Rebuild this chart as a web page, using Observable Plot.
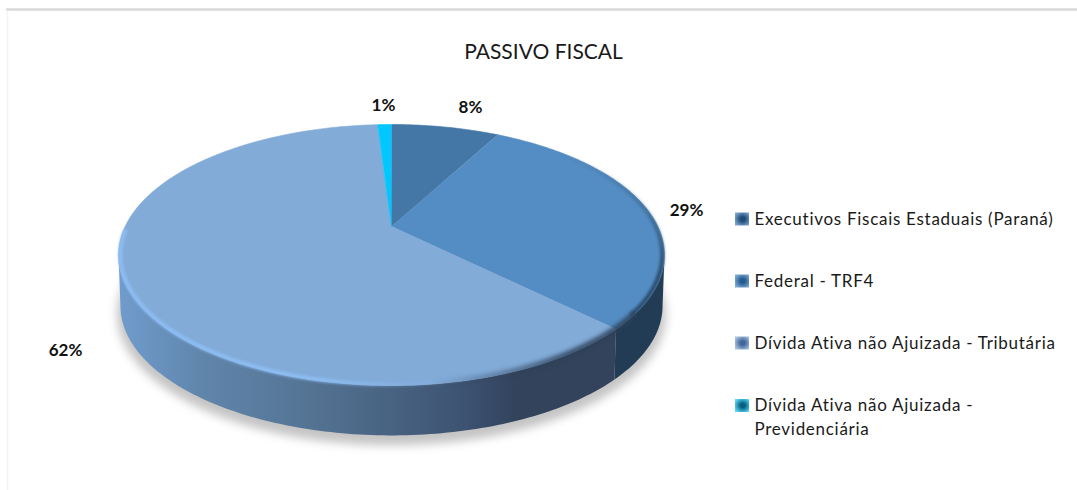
<!DOCTYPE html>
<html lang="pt">
<head>
<meta charset="utf-8">
<script src="https://cdn.jsdelivr.net/npm/d3@7"></script>
<script src="https://cdn.jsdelivr.net/npm/@observablehq/plot@0.6"></script>
<style>html,body{margin:0;padding:0;background:#fff}svg{display:block}</style>
</head>
<body>
<div id="chart"></div>
<script>
const chartTitle = "PASSIVO FISCAL";
const categories = ["Executivos Fiscais Estaduais (Paraná)", "Federal - TRF4", "Dívida Ativa não Ajuizada - Tributária", "Dívida Ativa não Ajuizada -\nPrevidenciária"];
const shares = [7.9, 29.45, 61.65, 1.0];
const faceColors = ["#4577a6", "#548dc4", "#82abd8", "#00c8ff"];
const labelX = [470, 686, 65, 383];
const labelY = [107, 210, 350, 105];
const legendY = [219, 281, 343, 405.5];
const swatchColors = [["#7ba6cf", "#1d4b78"], ["#7dabd8", "#255a8c"], ["#a9c4e2", "#41669a"], ["#5ad8f8", "#055f80"]];

const W = 1077, H = 490;
const cx = 391, cy = 226, R = 266.4, S = 124.3, k = 0.2184;
const bottomScale = 0.993, depth = 51;
const silhouette = Math.acos(-k) * 180 / Math.PI;

function project(deg, r = 1, down = 0) {
  const t = deg * Math.PI / 180;
  const w = 1 + k * Math.cos(t);
  return {
    x: cx + r * R * Math.sin(t) / w,
    y: cy - r * S * Math.cos(t) / w + down
  };
}
const arc = (a, b, r = 1, down = 0) => {
  const n = Math.max(2, Math.ceil(Math.abs(b - a)));
  return d3.range(n + 1).map(i => project(a + (b - a) * i / n, r, down));
};
let acc = 0;
const slices = shares.map((v, i) => {
  const a0 = acc * 3.6; acc += v;
  return {name: categories[i], a0, a1: acc * 3.6, color: faceColors[i]};
});
const wedge = s => [{x: cx, y: cy}, ...arc(s.a0, s.a1)];
const sideBand = (a, b) => [...arc(a, b), ...arc(b, a, bottomScale, depth)];

const line = (pts, o) => Plot.line(pts, {x: "x", y: "y", curve: "linear", ...o});
const spaced = px => (i, s, v, d, c, next) => {
  const g = next(i, s, v, d, c);
  g.style.letterSpacing = px;
  return g;
};

const sideStops = [[0, "#709ccd"], [0.17, "#6085ab"], [0.37, "#557595"], [0.58, "#465f7e"], [0.70, "#3c5271"], [0.80, "#32435c"], [1, "#33435b"]];
const defs = () => {
  const d = d3.create("svg:defs");
  const side = d.append("linearGradient").attr("id", "side3");
  sideStops.forEach(([o, c]) => side.append("stop").attr("offset", o).attr("stop-color", c));
  const fade = (id, x1, y1, x2, y2, stops) => {
    const g = d.append("linearGradient").attr("id", id).attr("gradientUnits", "userSpaceOnUse")
      .attr("x1", x1).attr("y1", y1).attr("x2", x2).attr("y2", y2);
    stops.forEach(([o, c, a]) => g.append("stop").attr("offset", o).attr("stop-color", c).attr("stop-opacity", a));
  };
  fade("lightRim", 118, 0, 480, 0, [[0, "#8fc0f8", 1], [0.55, "#8fc0f8", 1], [0.8, "#8fc0f8", 0.25], [1, "#8fc0f8", 0]]);
  fade("darkUpper", 0, 150, 0, 270, [[0, "#2c4a68", 0], [0.55, "#2c4a68", 0.45], [1, "#24405c", 0.9]]);
  fade("darkLower", 430, 0, 570, 0, [[0, "#34465f", 0], [1, "#2c4058", 0.9]]);
  swatchColors.forEach(([edge, mid], i) => {
    const g = d.append("radialGradient").attr("id", "sw" + i).attr("cx", 0.55).attr("cy", 0.5).attr("r", 0.62);
    [[0, mid], [0.25, mid], [1, edge]].forEach(([o, c]) =>
      g.append("stop").attr("offset", o).attr("stop-color", c));
  });
  return d.node();
};

const plot = Plot.plot({
  width: W, height: H,
  margin: 0,
  x: {domain: [0, W], range: [0, W], axis: null},
  y: {domain: [0, H], range: [0, H], axis: null},
  style: {background: "#fff", fontFamily: "Lato, 'Open Sans', sans-serif"},
  marks: [
    defs,
    // chart frame
    Plot.ruleY([9], {x1: 6, x2: W, stroke: "#d9d9d9", strokeWidth: 2.5}),
    Plot.ruleX([7], {y1: 10, y2: H, stroke: "#f2f2f2", strokeWidth: 1.5}),
    // soft shadow
    line(arc(0, 360, 1.005, depth + 8), {fill: "#c4c4c4", stroke: "none", imageFilter: "blur(5px)"}),
    // pie side
    line(sideBand(silhouette, slices[1].a1), {fill: "#223c55", stroke: "none"}),
    line(sideBand(slices[1].a1, 360 - silhouette), {fill: "url(#side3)", stroke: "none"}),
    // pie faces
    ...slices.map(s => line(wedge(s), {fill: s.color, stroke: s.color, strokeWidth: 0.6})),
    // bevel
    line(arc(165, 268, 0.993), {stroke: "url(#lightRim)", strokeWidth: 3.5, imageFilter: "blur(1.4px)"}),
    line(arc(40, 128, 0.992), {stroke: "url(#darkUpper)", strokeWidth: 4, imageFilter: "blur(1.6px)"}),
    line(arc(128, 178, 0.997), {stroke: "url(#darkLower)", strokeWidth: 6, imageFilter: "blur(2px)"}),
    // text
    Plot.text([chartTitle], {x: [543], y: [52], text: d => d, fontSize: 21, fill: "#1a1a1a"}),
    Plot.text(shares, {x: (d, i) => labelX[i], y: (d, i) => labelY[i], text: d => Math.round(d) + "%", fontSize: 17, fontWeight: "bold", fill: "#111"}),
    // legend
    ...categories.map((c, i) => Plot.rect([c], {
      x1: [735], x2: [749], y1: [legendY[i] - 6.5], y2: [legendY[i] + 6.5], fill: `url(#sw${i})`
    })),
    Plot.text(categories, {
      x: () => 754, y: (d, i) => legendY[i],
      text: d => d, textAnchor: "start", lineAnchor: "top", dy: -12, fontSize: 17, lineHeight: 1.41, fill: "#1a1a1a",
      render: spaced("0.72px")
    })
  ]
});
document.getElementById("chart").append(plot);
</script>
</body>
</html>
